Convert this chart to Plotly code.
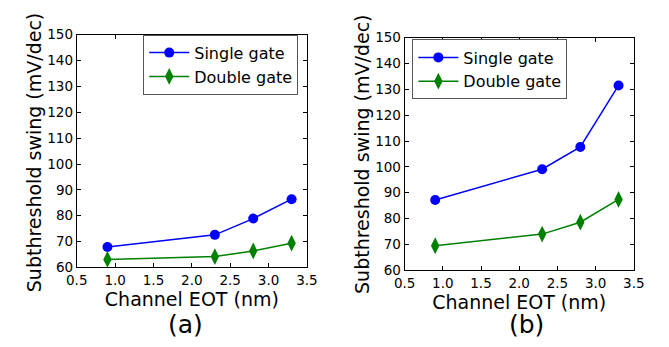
import plotly.graph_objects as go

eot = [0.9, 2.3, 2.8, 3.3]
single_a = [67.9, 72.6, 78.9, 86.4]
double_a = [63.1, 64.2, 66.4, 69.4]
single_b = [87.2, 99.1, 107.7, 131.5]
double_b = [69.5, 74.0, 78.6, 87.4]
x_ticks = [0.5, 1.0, 1.5, 2.0, 2.5, 3.0, 3.5]
y_ticks = [60, 70, 80, 90, 100, 110, 120, 130, 140, 150]
panel_labels = ["(a)", "(b)"]
y_title = "Subthreshold swing (mV/dec)"
x_title = "Channel EOT (nm)"

W, H = 669, 347
FONT = "DejaVu Sans"
BLUE = "#0000ff"
GREEN = "#008000"

fig = go.Figure()

def add_series(xa, ya, leg, ys, yd, show):
    fig.add_trace(go.Scatter(x=eot, y=ys, mode="lines+markers", name="Single gate",
                             line=dict(color=BLUE, width=1.5),
                             marker=dict(symbol="circle", size=10, color=BLUE, line=dict(width=0)),
                             xaxis=xa, yaxis=ya, legend=leg, showlegend=show))
    fig.add_trace(go.Scatter(x=eot, y=yd, mode="lines+markers", name="Double gate",
                             line=dict(color=GREEN, width=1.5),
                             marker=dict(symbol="diamond-tall", size=12, color=GREEN, line=dict(width=0)),
                             xaxis=xa, yaxis=ya, legend=leg, showlegend=show))

add_series("x", "y", "legend", single_a, double_a, True)
add_series("x2", "y2", "legend2", single_b, double_b, True)

def px_x(p):
    return p / W

def px_y(p):
    return 1 - p / H

axis_common = dict(showline=True, linecolor="black", linewidth=1, mirror="allticks",
                   ticks="inside", ticklen=4, tickcolor="black", showgrid=False,
                   zeroline=False, tickfont=dict(family=FONT, size=13.5, color="black"))

xa = dict(axis_common, range=[0.5, 3.5], tickvals=x_ticks,
          ticktext=[f"{v:.1f}" for v in x_ticks],
          title=dict(text=x_title, font=dict(family=FONT, size=19, color="black"), standoff=2))
ya = dict(axis_common, range=[60, 150], tickvals=y_ticks)

leg_common = dict(bordercolor="#555555", borderwidth=1, bgcolor="white",
                  font=dict(family=FONT, size=16, color="black"), itemwidth=40,
                  tracegroupgap=0)

fig.update_layout(
    width=W, height=H,
    margin=dict(l=0, r=0, t=0, b=0),
    paper_bgcolor="white", plot_bgcolor="white",
    font=dict(family=FONT, color="black"),
    xaxis=dict(xa, domain=[px_x(68), px_x(306)], anchor="y"),
    yaxis=dict(ya, domain=[px_y(272), px_y(28)], anchor="x"),
    xaxis2=dict(xa, domain=[px_x(407), px_x(644)], anchor="y2"),
    yaxis2=dict(ya, domain=[px_y(275), px_y(31)], anchor="x2"),
    legend=dict(leg_common, x=px_x(297), y=px_y(28), xanchor="right", yanchor="top"),
    legend2=dict(leg_common, x=px_x(415), y=px_y(33), xanchor="left", yanchor="top"),
)

for xp, yp in [(24, 152), (363, 154)]:
    fig.add_annotation(text=y_title, x=px_x(xp), y=px_y(yp), xref="paper", yref="paper",
                       xanchor="center", yanchor="middle", textangle=-90,
                       showarrow=False, font=dict(family=FONT, size=19, color="black"))

for lab, xp in zip(panel_labels, [180, 533]):
    fig.add_annotation(text=lab, x=px_x(xp), y=px_y(332), xref="paper", yref="paper",
                       xanchor="center", yanchor="middle",
                       showarrow=False, font=dict(family=FONT, size=25, color="black"))

fig.write_html("out.html")
